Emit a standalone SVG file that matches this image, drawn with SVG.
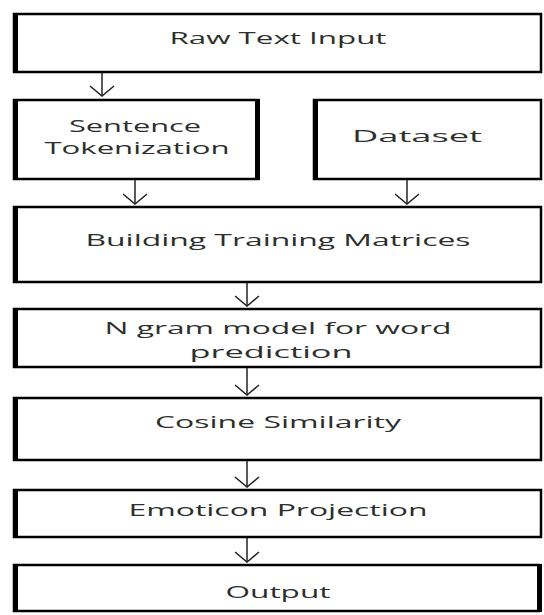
<svg xmlns="http://www.w3.org/2000/svg" width="544" height="615" viewBox="0 0 544 615">
<style>
.box{fill:#fff;stroke:#000;stroke-width:2.5}
.bar{fill:#000}
.lbl{font-family:"Open Sans","Liberation Sans",sans-serif;font-size:16px;fill:#2c2f2c;text-anchor:middle}
.con{stroke:#222;stroke-width:1.5;fill:none}
</style>
<defs>
<marker id="v" markerUnits="userSpaceOnUse" markerWidth="30" markerHeight="20" refX="13" refY="11" orient="auto-start-reverse" viewBox="0 0 30 20">
<path d="M1 1 L13 11 L25 1" transform="rotate(0)" fill="none" stroke="#222" stroke-width="1.5"/>
</marker>
</defs>
<rect width="544" height="615" fill="#fff"/>
<g id="raw">
<rect class="box" x="14" y="14" width="527" height="58"/>
<rect class="bar" x="13" y="13" width="5" height="60"/>
<text class="lbl" x="278" y="43.5" textLength="217" lengthAdjust="spacingAndGlyphs">Raw Text Input</text>
</g>
<g id="sentence">
<rect class="box" x="14" y="100" width="244" height="79"/>
<rect class="bar" x="13" y="99" width="5" height="81"/>
<rect class="bar" x="255" y="99" width="5" height="81"/>
<text class="lbl" x="135" y="132" textLength="132" lengthAdjust="spacingAndGlyphs">Sentence</text>
<text class="lbl" x="137" y="154" textLength="185" lengthAdjust="spacingAndGlyphs">Tokenization</text>
</g>
<g id="dataset">
<rect class="box" x="314" y="100" width="227" height="79"/>
<rect class="bar" x="313" y="99" width="5" height="81"/>
<text class="lbl" x="417" y="142" textLength="130" lengthAdjust="spacingAndGlyphs">Dataset</text>
</g>
<g id="building">
<rect class="box" x="14" y="207" width="527" height="75"/>
<rect class="bar" x="13" y="206" width="5" height="77"/>
<text class="lbl" x="278" y="245.5" textLength="385" lengthAdjust="spacingAndGlyphs">Building Training Matrices</text>
</g>
<g id="ngram">
<rect class="box" x="14" y="309" width="527" height="58"/>
<rect class="bar" x="13" y="308" width="5" height="60"/>
<text class="lbl" x="278" y="334" textLength="347" lengthAdjust="spacingAndGlyphs">N gram model for word</text>
<text class="lbl" x="271" y="358" textLength="163" lengthAdjust="spacingAndGlyphs">prediction</text>
</g>
<g id="cosine">
<rect class="box" x="14" y="398" width="527" height="62"/>
<rect class="bar" x="13" y="397" width="5" height="64"/>
<text class="lbl" x="278" y="428" textLength="246" lengthAdjust="spacingAndGlyphs">Cosine Similarity</text>
</g>
<g id="emoticon">
<rect class="box" x="14" y="490" width="527" height="47"/>
<rect class="bar" x="13" y="489" width="5" height="49"/>
<text class="lbl" x="278" y="516" textLength="299" lengthAdjust="spacingAndGlyphs">Emoticon Projection</text>
</g>
<g id="output">
<rect class="box" x="14" y="565" width="525" height="46"/>
<rect class="bar" x="13" y="564" width="5" height="48"/>
<rect class="bar" x="537" y="564" width="5" height="48"/>
<text class="lbl" x="278" y="598" textLength="105" lengthAdjust="spacingAndGlyphs">Output</text>
</g>
<g id="connectors">
<line class="con" x1="102" y1="73" x2="102" y2="96"/>
<polyline class="con" points="90,86 102,96 114,86"/>
<line class="con" x1="135" y1="180" x2="135" y2="204"/>
<polyline class="con" points="123,194 135,204 147,194"/>
<line class="con" x1="407" y1="180" x2="407" y2="204"/>
<polyline class="con" points="395,194 407,204 419,194"/>
<line class="con" x1="247" y1="283" x2="247" y2="306"/>
<polyline class="con" points="235,296 247,306 259,296"/>
<line class="con" x1="247" y1="368" x2="247" y2="395"/>
<polyline class="con" points="235,385 247,395 259,385"/>
<line class="con" x1="247" y1="461" x2="247" y2="487"/>
<polyline class="con" points="235,477 247,487 259,477"/>
<line class="con" x1="247" y1="538" x2="247" y2="562"/>
<polyline class="con" points="235,552 247,562 259,552"/>
</g>
</svg>
